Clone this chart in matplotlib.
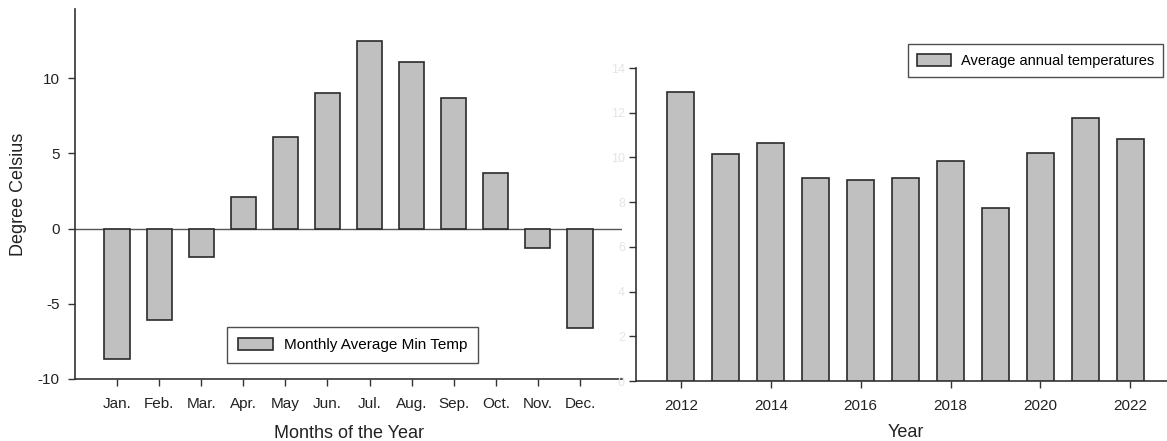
import numpy as np
import matplotlib.pyplot as plt

plt.rcParams['font.family'] = ['Liberation Sans', 'DejaVu Sans']
plt.rcParams['axes.unicode_minus'] = False

months = ['Jan.', 'Feb.', 'Mar.', 'Apr.', 'May', 'Jun.', 'Jul.', 'Aug.',
          'Sep.', 'Oct.', 'Nov.', 'Dec.']
min_temp = [-8.7, -6.1, -1.9, 2.1, 6.1, 9.0, 12.45, 11.1, 8.65, 3.7, -1.3, -6.6]

years = [2012, 2013, 2014, 2015, 2016, 2017, 2018, 2019, 2020, 2021, 2022]
annual_temp = [12.94, 10.14, 10.63, 9.09, 8.97, 9.09, 9.84, 7.75, 10.2, 11.78, 10.81]

bar_face = '#c0c0c0'
bar_edge = '#2b2b2b'
axis_col = '#333333'
text_col = '#222222'

fig = plt.figure(figsize=(11.67, 4.41), dpi=100)

# left panel: monthly minimum temperature
ax1 = fig.add_axes([0.0643, 0.1406, 0.4687, 0.839])
x = np.arange(1, len(months) + 1)
ax1.bar(x, min_temp, width=0.6, color=bar_face, edgecolor=bar_edge,
        linewidth=1.2, label='Monthly Average Min Temp', zorder=3)
ax1.axhline(0, color='#555555', linewidth=1.0, zorder=2)
ax1.set_xlim(0, 13)
ax1.set_ylim(-10, 14.6)
ax1.set_yticks([-10, -5, 0, 5, 10])
ax1.set_xticks(x)
ax1.set_xticklabels(months)
ax1.set_ylabel('Degree Celsius', fontsize=13, color=text_col, labelpad=8)
ax1.set_xlabel('Months of the Year', fontsize=13, color=text_col, labelpad=10)
ax1.legend(loc='lower left', bbox_to_anchor=(0.278, 0.043), borderaxespad=0,
           frameon=True, fancybox=False, edgecolor=text_col, fontsize=11,
           handlelength=2.3, handleheight=0.9, handletextpad=0.7, borderpad=0.7)

# right panel: annual average temperatures
ax2 = fig.add_axes([0.545, 0.136, 0.462, 0.7098])
ax2.bar(years, annual_temp, width=0.6, color=bar_face, edgecolor=bar_edge,
        linewidth=1.2, label='Average annual temperatures', zorder=3)
ax2.set_xlim(2011, 2023)
ax2.set_ylim(0, 14)
ax2.set_yticks(np.arange(0, 15, 2))
ax2.set_xticks([2012, 2014, 2016, 2018, 2020, 2022])
ax2.set_xlabel('Year', fontsize=13, color=text_col, labelpad=8)
handles, labels = ax2.get_legend_handles_labels()
fig.legend(handles, labels, loc='upper right', bbox_to_anchor=(0.997, 0.9),
           borderaxespad=0, frameon=True, fancybox=False, edgecolor=text_col,
           fontsize=10.5, handlelength=2.3, handleheight=0.9, handletextpad=0.7,
           borderpad=0.65)

for ax in (ax1, ax2):
    ax.spines['top'].set_visible(False)
    ax.spines['right'].set_visible(False)
    for s in ('left', 'bottom'):
        ax.spines[s].set_color(axis_col)
        ax.spines[s].set_linewidth(1.2)
    ax.tick_params(axis='both', direction='out', length=5, width=1.0,
                   color=axis_col, labelsize=11, labelcolor=text_col)
    ax.tick_params(axis='x', pad=8)
    ax.tick_params(axis='y', pad=6)

# the right panel's value labels sit under the left panel and are barely visible
ax2.tick_params(axis='y', labelcolor='#e4e4e4', labelsize=9, pad=3)

fig.savefig('out.png', dpi=100)
